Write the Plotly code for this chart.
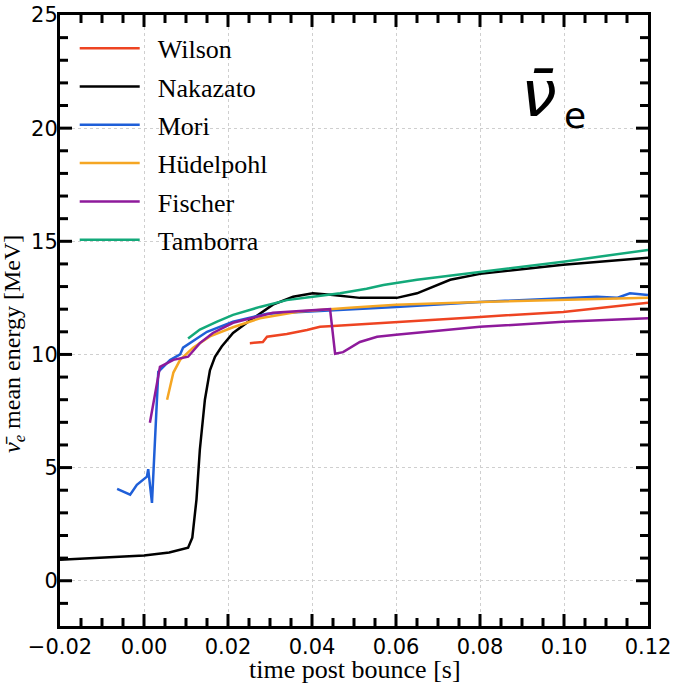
import numpy as np
import plotly.graph_objects as go

names = ["Wilson", "Nakazato", "Mori", "Hüdelpohl", "Fischer", "Tamborra"]
colors = ["#EE4422", "#000000", "#1F5FD8", "#F5A623", "#8E1A9B", "#13A97A"]

wilson_t = [0.0252, 0.0283, 0.0293, 0.034, 0.0388, 0.0419, 0.045, 0.06, 0.08, 0.0998, 0.12]
wilson_e = [10.5, 10.55, 10.78, 10.9, 11.08, 11.22, 11.26, 11.44, 11.66, 11.88, 12.28]

naka_t = [-0.02, -0.01, 0.0, 0.006, 0.0105, 0.0115, 0.0125, 0.0133, 0.0145, 0.0157, 0.0169, 0.0185,
          0.0212, 0.0252, 0.0307, 0.0355, 0.0402, 0.045, 0.0514, 0.0602, 0.065, 0.0729, 0.08,
          0.0998, 0.12]
naka_e = [0.93, 1.02, 1.12, 1.25, 1.46, 1.9, 3.6, 5.8, 8.0, 9.3, 9.9, 10.35,
          10.95, 11.5, 12.2, 12.55, 12.7, 12.63, 12.5, 12.5, 12.7, 13.3, 13.56,
          13.96, 14.27]

mori_t = [-0.0064, -0.0033, -0.0017, 0.0007, 0.001, 0.0019, 0.0034, 0.0062, 0.0086, 0.0093,
          0.015, 0.0212, 0.0293, 0.0402, 0.049, 0.06, 0.08, 0.0998, 0.1078, 0.1126, 0.1157, 0.12]
mori_e = [4.06, 3.8, 4.24, 4.6, 4.93, 3.44, 9.23, 9.75, 10.0, 10.3,
          11.0, 11.45, 11.8, 11.9, 11.97, 12.1, 12.32, 12.5, 12.55, 12.5, 12.7, 12.63]

hud_t = [0.0055, 0.007, 0.0086, 0.0117, 0.0157, 0.0212, 0.0276, 0.037, 0.049, 0.06, 0.08, 0.12]
hud_e = [8.0, 9.2, 9.76, 10.3, 10.8, 11.2, 11.6, 11.9, 12.06, 12.2, 12.32, 12.5]

fis_t = [0.0014, 0.0038, 0.007, 0.0105, 0.0133, 0.0164, 0.0212, 0.0307, 0.0443, 0.0455,
         0.0474, 0.0514, 0.0555, 0.06, 0.08, 0.0998, 0.12]
fis_e = [6.98, 9.45, 9.76, 9.9, 10.5, 10.95, 11.4, 11.84, 12.0, 10.03,
         10.1, 10.55, 10.78, 10.87, 11.22, 11.44, 11.6]

tam_t = [0.0105, 0.0133, 0.0174, 0.0212, 0.0276, 0.034, 0.0402, 0.0467, 0.053, 0.057, 0.065,
         0.08, 0.0998, 0.12]
tam_e = [10.7, 11.1, 11.45, 11.75, 12.1, 12.4, 12.55, 12.7, 12.9, 13.07, 13.3,
         13.65, 14.1, 14.62]

series = [(wilson_t, wilson_e), (naka_t, naka_e), (mori_t, mori_e),
          (hud_t, hud_e), (fis_t, fis_e), (tam_t, tam_e)]

X_RANGE = [-0.02, 0.12]
Y_RANGE = [-2, 25]
X_TITLE = "time post bounce [s]"
Y_TITLE = "<i>ν̄<sub>e</sub></i> mean energy [MeV]"

fig = go.Figure()
for i, (name, col, (t, e)) in enumerate(zip(names, colors, series)):
    fig.add_trace(go.Scatter(x=t, y=e, mode="lines", name="\u2002" + name, legendgroup=name,
                             line=dict(color=col, width=2.5)))

axis_common = dict(
    showline=True, linecolor="black", linewidth=3, mirror=True,
    ticks="",
    showgrid=True, gridcolor="#cfcfcf", griddash="dot", gridwidth=1,
    zeroline=False, automargin=False,
    tickfont=dict(family="DejaVu Sans", size=21, color="black"),
)

fig.update_xaxes(range=X_RANGE, dtick=0.02, tick0=0, tickformat=".2f", **axis_common)
fig.update_yaxes(range=Y_RANGE, dtick=5, tick0=0, ticklabelstandoff=-5, **axis_common)

# inward tick marks on all four sides
W, H = 680, 685
L, R, T, B = 60, 32, 15, 59
pw, ph = W - L - R, H - T - B
tick_line = dict(color="black", width=3)
x_major = np.arange(0.0, 0.1201, 0.02)[:-1]
x_minor = [v for v in np.arange(-0.015, 0.1201, 0.005) if abs(round(v / 0.02) * 0.02 - v) > 1e-9]
y_major = np.arange(0, 21, 5)
y_minor = [v for v in range(-1, 25) if v % 5 != 0]
for vals, ln in ((x_major, 12), (x_minor, 8)):
    for v in vals:
        fig.add_shape(type="line", xref="x", yref="paper", x0=v, x1=v, y0=0, y1=ln / ph, line=tick_line)
        fig.add_shape(type="line", xref="x", yref="paper", x0=v, x1=v, y0=1, y1=1 - ln / ph, line=tick_line)
for vals, ln in ((y_major, 12), (y_minor, 8)):
    for v in vals:
        fig.add_shape(type="line", xref="paper", yref="y", y0=v, y1=v, x0=0, x1=ln / pw, line=tick_line)
        fig.add_shape(type="line", xref="paper", yref="y", y0=v, y1=v, x0=1, x1=1 - ln / pw, line=tick_line)

# axis titles
fig.add_annotation(xref="paper", yref="paper", x=(355 - L) / pw, y=(T + ph - 669) / ph, xanchor="center", yanchor="middle",
                   text=X_TITLE, showarrow=False,
                   font=dict(family="Liberation Serif", size=26, color="black"))
fig.add_annotation(xref="paper", yref="paper", x=(14 - L) / pw, y=(T + ph - 344) / ph, xanchor="center", yanchor="middle",
                   text=Y_TITLE, showarrow=False, textangle=-90,
                   font=dict(family="Liberation Serif", size=24, color="black"))

# species label
fig.add_annotation(xref="paper", yref="paper", x=0.815, y=0.871, xanchor="center", yanchor="middle",
                   text="<i>ν̄</i>", showarrow=False,
                   font=dict(family="DejaVu Sans", size=64, color="black"))
fig.add_annotation(xref="paper", yref="paper", x=0.876, y=0.836, xanchor="center", yanchor="middle",
                   text="e", showarrow=False,
                   font=dict(family="DejaVu Sans", size=36, color="black"))

fig.update_layout(
    width=W, height=H,
    margin=dict(l=L, r=R, t=T, b=B),
    plot_bgcolor="white", paper_bgcolor="white",
    legend=dict(x=0.025, y=0.984, xanchor="left", yanchor="top", bgcolor="rgba(255,255,255,0)",
                font=dict(family="Liberation Serif", size=26, color="black"),
                tracegroupgap=1.5, itemwidth=60),
    showlegend=True,
)

fig.write_html("out.html")
